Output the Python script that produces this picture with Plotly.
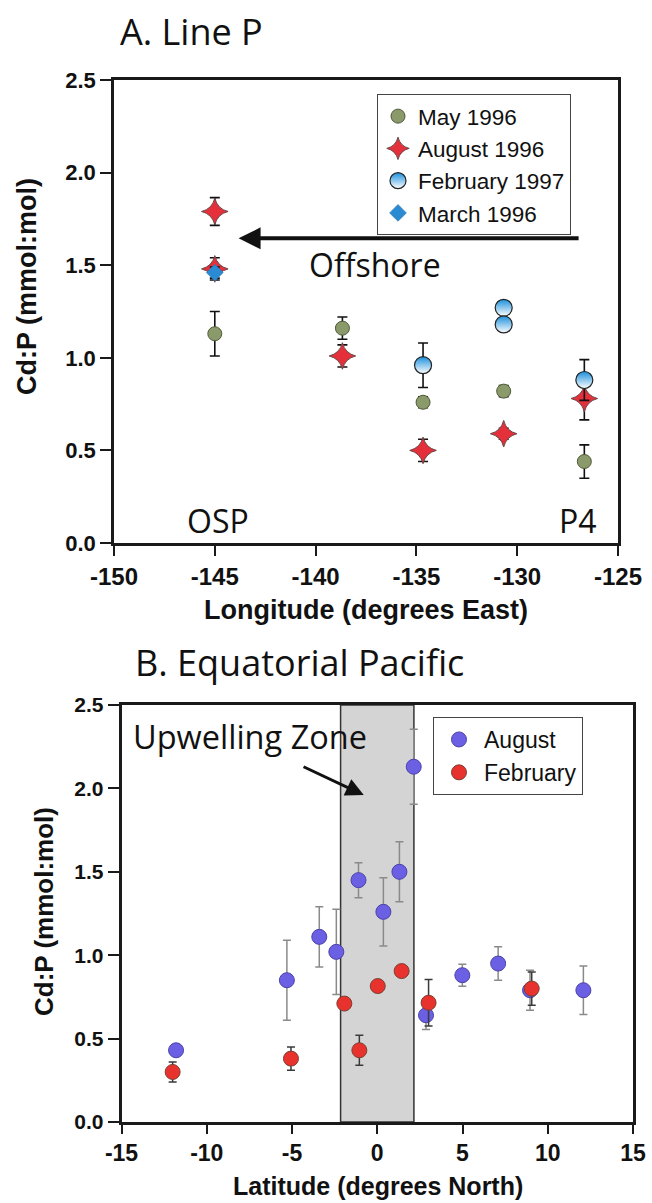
import plotly.graph_objects as go

# ---------------- Panel A: Line P ----------------
may96_lon = [-145.0, -138.67, -134.67, -130.67, -126.67]
may96_cdp = [1.13, 1.16, 0.76, 0.82, 0.44]
may96_err = [0.12, 0.06, 0.03, 0.03, 0.09]

aug96_lon = [-145.0, -145.0, -138.67, -134.67, -130.67, -126.67]
aug96_cdp = [1.79, 1.48, 1.01, 0.50, 0.59, 0.78]
aug96_err = [0.075, 0.06, 0.06, 0.06, 0.03, 0.115]

feb97_lon = [-134.67, -130.67, -130.67, -126.67]
feb97_cdp = [0.96, 1.27, 1.18, 0.88]
feb97_err = [0.12, 0.035, 0.035, 0.11]

mar96_lon = [-145.0]
mar96_cdp = [1.46]
mar96_err = [0.03]

offshore_arrow_lon = [-126.88, -143.82]   # tail, head
offshore_arrow_cdp = [1.645, 1.645]

# ---------------- Panel B: Equatorial Pacific ----------------
aug_lat = [-11.8, -5.3, -3.4, -2.4, -1.1, 0.36, 1.3, 2.14, 2.86, 4.99, 7.09, 8.96, 12.09]
aug_cdp = [0.43, 0.85, 1.11, 1.02, 1.45, 1.26, 1.50, 2.13, 0.64, 0.88, 0.95, 0.79, 0.79]
aug_err = [0.0, 0.24, 0.18, 0.255, 0.105, 0.205, 0.18, 0.225, 0.085, 0.066, 0.10, 0.12, 0.145]

feb_lat = [-12.0, -5.06, -1.93, -1.05, 0.03, 1.43, 3.01, 9.06]
feb_cdp = [0.30, 0.38, 0.71, 0.43, 0.815, 0.905, 0.715, 0.80]
feb_err = [0.06, 0.07, 0.03, 0.09, 0.03, 0.03, 0.14, 0.10]

upwelling_lat = [-2.15, 2.15]
upwelling_arrow_lat = [-4.41, -0.79]      # tail, head
upwelling_arrow_cdp = [2.134, 1.96]

y_ticks = [0.0, 0.5, 1.0, 1.5, 2.0, 2.5]
y_ticktext = ["0.0", "0.5", "1.0", "1.5", "2.0", "2.5"]
lon_ticks = [-150, -145, -140, -135, -130, -125]
lon_ticktext = ["-150", "-145", "-140", "-135", "-130", "-125"]
lat_ticks = [-15, -10, -5, 0, 5, 10, 15]
lat_ticktext = ["-15", "-10", "-5", "0", "5", "10", "15"]

W, H = 652, 1203
ARIAL = "Liberation Sans, Arial, sans-serif"
HUMAN = "Open Sans, Lato, sans-serif"

fig = go.Figure()

# Panel A traces
fig.add_trace(go.Scatter(
    x=may96_lon, y=may96_cdp, mode="markers", name="May 1996",
    marker=dict(symbol="circle", size=14, color="#8b9a6b", line=dict(color="#4f5a3a", width=1)),
    error_y=dict(type="data", array=may96_err, color="#111", thickness=1.6, width=5),
    xaxis="x", yaxis="y", legend="legend"))
fig.add_trace(go.Scatter(
    x=aug96_lon, y=aug96_cdp, mode="markers", name="August 1996",
    marker=dict(symbol="star-diamond", size=19, color="#e4303b", line=dict(color="#6a4a4a", width=1)),
    error_y=dict(type="data", array=aug96_err, color="#111", thickness=1.6, width=5),
    xaxis="x", yaxis="y", legend="legend"))
fig.add_trace(go.Scatter(
    x=feb97_lon, y=feb97_cdp, mode="markers", name="February 1997",
    marker=dict(symbol="circle", size=17, color="#1b8fdc",
                gradient=dict(type="vertical", color="#ffffff"),
                line=dict(color="#222", width=1.2)),
    error_y=dict(type="data", array=feb97_err, color="#111", thickness=1.6, width=5),
    xaxis="x", yaxis="y", legend="legend"))
fig.add_trace(go.Scatter(
    x=mar96_lon, y=mar96_cdp, mode="markers", name="March 1996",
    marker=dict(symbol="diamond", size=13, color="#2a8ad2", line=dict(color="#2a6fa8", width=0.5)),
    error_y=dict(type="data", array=mar96_err, color="#111", thickness=1.6, width=5),
    xaxis="x", yaxis="y", legend="legend"))

# Panel B traces
fig.add_trace(go.Scatter(
    x=aug_lat, y=aug_cdp, mode="markers", name="August",
    marker=dict(symbol="circle", size=15, color="#6b5fe3", line=dict(color="#4a42a8", width=1)),
    error_y=dict(type="data", array=aug_err, color="#8a8a8a", thickness=1.5, width=4),
    xaxis="x2", yaxis="y2", legend="legend2"))
fig.add_trace(go.Scatter(
    x=feb_lat, y=feb_cdp, mode="markers", name="February",
    marker=dict(symbol="circle", size=15, color="#e8322e", line=dict(color="#7a4030", width=1)),
    error_y=dict(type="data", array=feb_err, color="#3a3a3a", thickness=1.5, width=4),
    xaxis="x2", yaxis="y2", legend="legend2"))


def axis_style(size, ticklen=11):
    return dict(
        showline=True, linecolor="#1a1a1a", linewidth=2.5, mirror=True,
        ticks="outside", ticklen=ticklen, tickwidth=1.5, tickcolor="#1a1a1a",
        showgrid=False, zeroline=False, automargin=False,
        tickfont=dict(family=ARIAL, size=size, color="#111", weight="bold"),
    )


fig.update_layout(
    template="none",
    width=W, height=H, autosize=False,
    margin=dict(l=0, r=0, t=0, b=0, pad=0, autoexpand=False),
    paper_bgcolor="white", plot_bgcolor="white",
    showlegend=True,
    xaxis=dict(domain=[114 / W, 618 / W], range=[-150, -125], tickvals=lon_ticks,
               ticktext=lon_ticktext, anchor="y", **axis_style(24, 10)),
    yaxis=dict(domain=[1 - 543 / H, 1 - 80 / H], range=[0, 2.5], tickvals=y_ticks,
               ticktext=y_ticktext, anchor="x", **axis_style(22)),
    xaxis2=dict(domain=[121.5 / W, 633 / W], range=[-15, 15], tickvals=lat_ticks,
                ticktext=lat_ticktext, anchor="y2", **axis_style(23, 9)),
    yaxis2=dict(domain=[1 - 1122 / H, 1 - 705 / H], range=[0, 2.5], tickvals=y_ticks,
                ticktext=y_ticktext, anchor="x2", **axis_style(21)),
    legend=dict(x=377 / W, y=1 - 94 / H, xanchor="left", yanchor="top",
                bgcolor="white", bordercolor="#444", borderwidth=1,
                font=dict(family=ARIAL, size=22.5, color="#111")),
    legend2=dict(x=433 / W, y=1 - 717 / H, xanchor="left", yanchor="top",
                 bgcolor="white", bordercolor="#444", borderwidth=1, itemwidth=40,
                 font=dict(family=ARIAL, size=23, color="#111")),
    shapes=[dict(type="rect", xref="x2", yref="y2",
                 x0=upwelling_lat[0], x1=upwelling_lat[1], y0=0, y1=2.5,
                 fillcolor="#d4d4d4", line=dict(color="#333", width=1.5), layer="below")],
)

annotations = [
    # panel titles
    dict(text="A. Line P", xref="paper", yref="paper", x=118 / W, y=1 - 31 / H,
         xanchor="left", yanchor="middle", showarrow=False,
         font=dict(family=HUMAN, size=36, color="#111")),
    dict(text="B. Equatorial Pacific", xref="paper", yref="paper", x=133 / W, y=1 - 662 / H,
         xanchor="left", yanchor="middle", showarrow=False,
         font=dict(family=HUMAN, size=36, color="#111")),
    # axis titles
    dict(text="Longitude (degrees East)", xref="paper", yref="paper", x=366 / W, y=1 - 610 / H,
         xanchor="center", yanchor="middle", showarrow=False,
         font=dict(family=ARIAL, size=27, color="#111", weight="bold")),
    dict(text="Latitude (degrees North)", xref="paper", yref="paper", x=378 / W, y=1 - 1186 / H,
         xanchor="center", yanchor="middle", showarrow=False,
         font=dict(family=ARIAL, size=25, color="#111", weight="bold")),
    dict(text="Cd:P (mmol:mol)", xref="paper", yref="paper", x=27 / W, y=1 - 287 / H,
         xanchor="center", yanchor="middle", textangle=-90, showarrow=False,
         font=dict(family=ARIAL, size=27, color="#111", weight="bold")),
    dict(text="Cd:P (mmol:mol)", xref="paper", yref="paper", x=44 / W, y=1 - 912 / H,
         xanchor="center", yanchor="middle", textangle=-90, showarrow=False,
         font=dict(family=ARIAL, size=26, color="#111", weight="bold")),
    # in-plot labels
    dict(text="Offshore", xref="x", yref="y", x=-137.03, y=1.505, showarrow=False,
         font=dict(family=HUMAN, size=32, color="#111")),
    dict(text="OSP", xref="x", yref="y", x=-144.84, y=0.124, showarrow=False,
         font=dict(family=HUMAN, size=32, color="#111")),
    dict(text="P4", xref="x", yref="y", x=-127.0, y=0.124, showarrow=False,
         font=dict(family=HUMAN, size=32, color="#111")),
    dict(text="Upwelling Zone", xref="x2", yref="y2", x=-7.49, y=2.314, showarrow=False,
         font=dict(family=HUMAN, size=32.5, color="#111")),
    # arrows
    dict(text="", xref="x", yref="y", axref="x", ayref="y",
         x=offshore_arrow_lon[1], y=offshore_arrow_cdp[1],
         ax=offshore_arrow_lon[0], ay=offshore_arrow_cdp[0],
         showarrow=True, arrowhead=2, arrowsize=1.1, arrowwidth=4, arrowcolor="#111"),
    dict(text="", xref="x2", yref="y2", axref="x2", ayref="y2",
         x=upwelling_arrow_lat[1], y=upwelling_arrow_cdp[1],
         ax=upwelling_arrow_lat[0], ay=upwelling_arrow_cdp[0],
         showarrow=True, arrowhead=2, arrowsize=1.2, arrowwidth=3, arrowcolor="#111"),
]
fig.update_layout(annotations=annotations)

fig.write_html("out.html")
